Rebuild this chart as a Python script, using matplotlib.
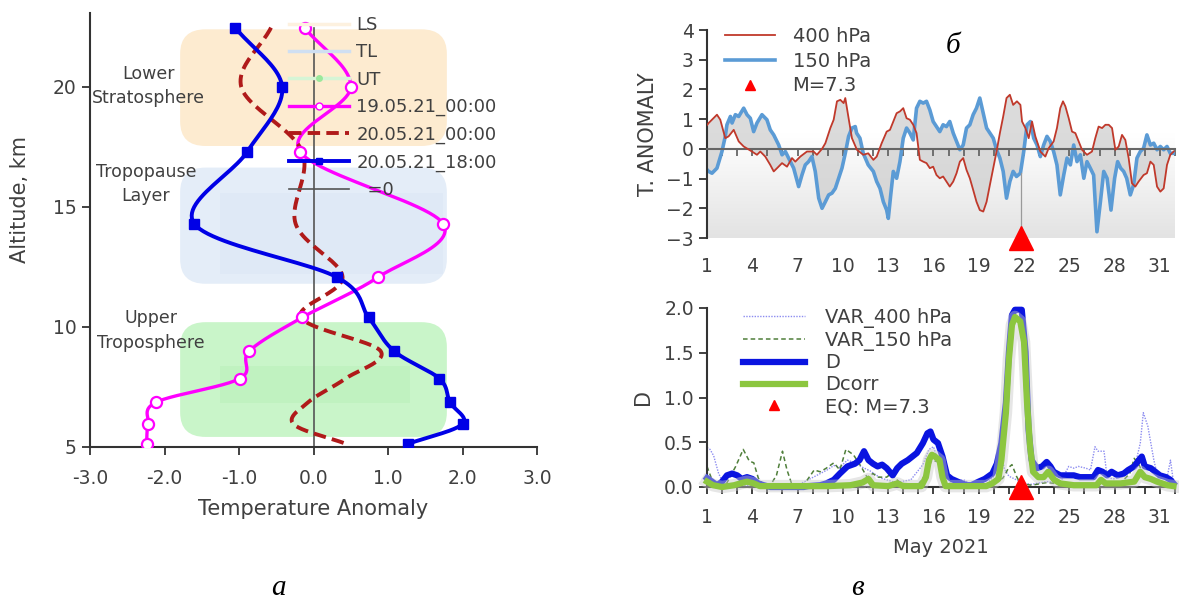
import numpy as np
import matplotlib
matplotlib.use("Agg")
import matplotlib.pyplot as plt
from matplotlib.patches import FancyBboxPatch
from matplotlib.lines import Line2D
from matplotlib.ticker import FuncFormatter
from matplotlib.colors import LinearSegmentedColormap

plt.rcParams["font.family"] = ["DejaVu Sans"]
TEXT = "#404040"
AXIS = "#333333"

# ---- (a) temperature anomaly profiles
ALT = [22.47, 20.0, 17.3, 14.3, 12.08, 10.4, 9.0, 7.85, 6.87, 5.96, 5.13]
T_19_00 = [-0.12, 0.50, -0.18, 1.74, 0.87, -0.15, -0.86, -0.99, -2.11, -2.22, -2.24]
T_20_00 = [-0.57, -0.97, -0.15, -0.24, 0.39, -0.17, 0.90, 0.43, -0.07, -0.27, 0.44]
T_20_18 = [-1.05, -0.42, -0.89, -1.60, 0.31, 0.74, 1.08, 1.69, 1.83, 2.00, 1.27]
ZERO_ALT = [5.0, 22.47]

# layers: (label, x0, x1, alt0, alt1, colour)
LAYERS = [("LS", -1.79, 1.79, 17.54, 22.40, "#fdebd0"),
          ("TL", -1.79, 1.79, 11.80, 16.64, "#e4edf8"),
          ("UT", -1.79, 1.79, 5.42, 10.20, "#c9f5c9")]

# ---- (б) temperature anomaly time series, May 2021
RED_DAY = [1.0, 1.11, 1.66, 1.88, 2.21, 2.43, 2.77, 3.10, 3.43, 3.98, 4.31, 4.53, 4.86,
           5.19, 5.42, 5.64, 5.97, 6.30, 6.63, 6.85, 7.18, 7.62, 8.06, 8.28, 8.62, 8.84,
           9.17, 9.39, 9.61, 9.83, 10.05, 10.16, 10.38, 10.60, 10.93, 11.35, 11.68,
           12.02, 12.24, 12.57, 12.90, 13.12, 13.34, 13.56, 13.78, 14.00, 14.22, 14.44,
           14.66, 14.88, 15.10, 15.32, 15.54, 15.76, 15.98, 16.20, 16.42, 16.64, 16.86,
           17.08, 17.31, 17.53, 17.75, 17.97, 18.19, 18.41, 18.63, 18.85, 19.07, 19.30,
           19.52, 19.74, 19.96, 20.18, 20.40, 20.62, 20.84, 21.06, 21.28, 21.53, 21.76,
           21.87, 22.09, 22.31, 22.53, 22.75, 23.08, 23.41, 23.63, 23.96, 24.18, 24.40,
           24.58, 24.74, 24.96, 25.18, 25.40, 25.62, 25.84, 26.17, 26.50, 26.72, 26.94,
           27.17, 27.39, 27.61, 27.83, 28.05, 28.27, 28.49, 28.71, 28.93, 29.15, 29.37,
           29.59, 29.92, 30.14, 30.37, 30.59, 30.81, 31.03, 31.25, 31.47, 31.69, 31.91]
RED_VAL = [0.80, 0.87, 1.15, 0.98, 0.36, 0.42, 0.64, 0.25, 0.08, -0.09, -0.20, -0.09, -0.26,
           -0.54, -0.76, -0.65, -0.48, -0.60, -0.31, -0.43, -0.26, -0.09, -0.09, -0.20, 0.00,
           0.19, 0.70, 0.98, 1.60, 1.65, 1.54, 1.71, 1.03, 0.36, -0.03, -0.20, -0.15,
           -0.37, -0.26, 0.19, 0.58, 0.64, 0.92, 1.20, 1.26, 1.37, 1.03, 0.98,
           0.81, 0.53, -0.37, -0.43, -0.48, -0.65, -0.60, -0.88, -0.99, -0.93, -1.10,
           -1.27, -1.10, -0.82, -0.43, -0.31, -0.71, -0.99, -1.38, -1.78, -2.06, -2.11,
           -1.78, -1.21, -0.65, -0.09, 0.53, 1.09, 1.71, 1.82, 1.48, 1.60, 1.48,
           0.92, 0.70, 0.36, 0.92, 0.42, -0.09, -0.26, 0.02, 0.25, 0.70, 1.37,
           1.60, 1.43, 1.03, 0.58, 0.53, 0.25, -0.03, -0.20, -0.09, 0.36, 0.75,
           0.70, 0.81, 0.81, 0.70, -0.03, 0.08, 0.47, 0.30, -0.31, -1.16, -1.27,
           -1.10, -0.88, -0.82, -0.43, -0.54, -1.27, -1.44, -1.33, -0.54, -0.20, -0.09]

BLUE_DAY = [1.0, 1.11, 1.33, 1.66, 1.99, 2.21, 2.32, 2.55, 2.66, 2.88, 3.10, 3.43, 3.65,
            3.87, 4.09, 4.31, 4.64, 4.97, 5.19, 5.42, 5.75, 5.97, 6.19, 6.52, 6.74, 7.07,
            7.29, 7.51, 7.73, 7.95, 8.17, 8.40, 8.62, 8.84, 9.06, 9.28, 9.50, 9.72, 9.94,
            10.16, 10.38, 10.60, 10.82, 10.91, 11.13, 11.35, 11.68, 12.02, 12.24, 12.46,
            12.68, 12.90, 13.01, 13.17, 13.34, 13.56, 13.78, 14.00, 14.22, 14.44, 14.66,
            14.88, 15.10, 15.32, 15.54, 15.76, 15.98, 16.20, 16.42, 16.64, 16.86, 17.08,
            17.31, 17.53, 17.75, 17.97, 18.19, 18.41, 18.63, 18.85, 19.07, 19.30, 19.52,
            19.74, 19.96, 20.18, 20.40, 20.62, 20.84, 21.06, 21.28, 21.50, 21.76, 21.98,
            22.20, 22.42, 22.64, 22.86, 23.08, 23.30, 23.52, 23.74, 23.96, 24.18, 24.40,
            24.63, 24.85, 25.07, 25.29, 25.51, 25.73, 25.96, 26.17, 26.39, 26.61, 26.83,
            27.06, 27.28, 27.50, 27.76, 28.00, 28.20, 28.40, 28.60, 28.80, 29.04, 29.26,
            29.48, 29.70, 29.92, 30.14, 30.37, 30.59, 30.81, 31.03, 31.25, 31.47, 31.69,
            31.91]
BLUE_VAL = [-0.70, -0.76, -0.82, -0.65, -0.09, 0.42, 0.81, 1.09, 0.87, 1.15, 1.09, 1.37, 1.15,
            1.03, 0.58, 0.87, 1.15, 0.98, 0.64, 0.47, 0.13, -0.20, -0.09, -0.43, -0.65, -1.27,
            -0.88, -0.54, -0.43, -0.26, -0.76, -1.66, -2.00, -1.78, -1.55, -1.49, -1.33, -0.99,
            -0.65, -0.15, 0.42, 0.70, 0.75, 0.53, 0.36, -0.15, -0.54, -0.76, -1.10, -1.33,
            -1.78, -2.06, -2.34, -1.55, -0.76, -0.99, -0.43, 0.36, 0.70, 0.53, 0.30,
            1.37, 1.60, 1.54, 1.60, 1.31, 0.92, 0.75, 0.58, 0.81, 0.75, 0.92,
            0.53, 0.25, -0.03, 0.13, 0.70, 0.81, 1.15, 1.37, 1.71, 1.20, 0.70,
            0.53, 0.36, -0.03, -0.31, -0.76, -1.66, -1.10, -0.76, -0.93, -0.82, -0.09,
            0.81, 0.92, 0.36, 0.13, -0.26, 0.13, 0.42, 0.25, -0.09, -0.54, -1.55,
            -0.88, -0.31, -0.54, 0.13, -0.43, -0.20, -0.99, -0.43, -0.65, -0.88, -2.79,
            -1.78, -0.76, -0.99, -2.06, -0.99, -0.43, -0.65, -0.76, -0.99, -1.55, -1.21,
            -0.31, -0.09, 0.02, 0.47, 0.13, 0.19, -0.03, 0.08, -0.03, 0.08, -0.15,
            -0.15]

EQ_DAY = 21.8
EQ_DROP_TOP = -0.8

# ---- (в) D index and variances
D_DAY = [1.0, 1.33, 1.66, 2.0, 2.32, 2.66, 3.0, 3.3, 3.65, 4.0, 4.4, 4.75, 5.2, 7.4, 7.7,
         8.5, 8.9, 9.4, 9.8, 10.3, 10.8, 11.1, 11.4, 11.7, 12.0, 12.3, 12.6, 12.9, 13.3,
         13.6, 13.9, 14.3, 14.6, 14.9, 15.3, 15.6, 15.8, 16.0, 16.3, 16.6, 16.9, 17.2,
         17.6, 17.9, 18.2, 18.5, 19.0, 19.4, 19.9, 20.2, 20.5, 20.8, 21.0, 21.2, 21.4,
         21.85, 22.1, 22.3, 22.5, 22.86, 23.2, 23.5, 23.75, 23.96, 24.4, 24.85, 25.3,
         25.7, 26.2, 26.6, 26.9, 27.2, 27.5, 27.8, 28.2, 28.6, 28.9, 29.3, 29.6, 29.8,
         30.0, 30.4, 30.7, 31.0, 31.4, 31.7, 31.9]
D_VAL = [0.10, 0.06, 0.02, 0.06, 0.13, 0.15, 0.13, 0.09, 0.11, 0.09, 0.04, 0.02, 0.0, 0.0, 0.01,
         0.02, 0.04, 0.08, 0.15, 0.23, 0.26, 0.30, 0.40, 0.30, 0.26, 0.23, 0.25, 0.21, 0.13,
         0.21, 0.26, 0.30, 0.34, 0.38, 0.49, 0.60, 0.62, 0.53, 0.49, 0.34, 0.13, 0.09,
         0.06, 0.04, 0.02, 0.02, 0.06, 0.09, 0.15, 0.26, 0.49, 0.94, 1.51, 1.92, 1.98,
         1.98, 1.51, 0.64, 0.30, 0.21, 0.23, 0.28, 0.23, 0.17, 0.13, 0.13, 0.13,
         0.11, 0.11, 0.11, 0.19, 0.17, 0.13, 0.17, 0.13, 0.15, 0.19, 0.23, 0.30, 0.34,
         0.23, 0.21, 0.17, 0.13, 0.11, 0.08, 0.04]

DCORR_DAY = [1.0, 1.4, 2.0, 2.8, 3.2, 3.65, 4.1, 4.5, 9.0, 10.5, 11.3, 11.7, 12.0, 13.0,
             13.6, 14.0, 15.2, 15.5, 15.7, 15.9, 16.1, 16.4, 16.6, 16.8, 19.5, 19.9, 20.3,
             20.5, 20.8, 21.0, 21.2, 21.4, 21.75, 22.0, 22.2, 22.4, 22.6, 22.95, 23.3,
             23.6, 24.0, 24.4, 25.3, 26.8, 27.1, 27.4, 28.4, 29.3, 29.7, 30.0, 30.4, 30.8,
             31.5, 31.9]
DCORR_VAL = [0.06, 0.02, 0.0, 0.02, 0.04, 0.06, 0.04, 0.01, 0.01, 0.02, 0.05, 0.09, 0.02, 0.01,
             0.04, 0.01, 0.01, 0.11, 0.30, 0.36, 0.34, 0.30, 0.11, 0.01, 0.01, 0.04, 0.09,
             0.30, 0.83, 1.43, 1.81, 1.90, 1.85, 1.62, 0.94, 0.45, 0.17, 0.11, 0.11,
             0.17, 0.08, 0.04, 0.02, 0.02, 0.08, 0.04, 0.04, 0.06, 0.17, 0.11, 0.09, 0.06,
             0.02, 0.01]

VAR400_DAY = [1.0, 1.2, 1.44, 1.77, 2.1, 3.0, 5.0, 7.0, 7.7, 8.5, 8.95, 9.4, 9.8, 10.3, 10.8,
              11.3, 11.8, 12.5, 13.5, 14.5, 15.3, 15.7, 16.0, 16.3, 16.7, 17.3, 18.0, 18.5,
              19.5, 20.0, 20.4, 20.7, 21.0, 21.5, 22.0, 22.5, 23.5, 24.4, 24.96, 25.3, 25.6,
              26.1, 26.4, 26.7, 26.9, 27.3, 27.5, 27.9, 28.6, 29.3, 29.7, 29.9, 30.2, 30.6,
              30.9, 31.4, 31.7, 31.9]
VAR400_VAL = [0.44, 0.42, 0.35, 0.15, 0.04, 0.02, 0.01, 0.02, 0.08, 0.15, 0.19, 0.24, 0.22, 0.30,
              0.27, 0.22, 0.18, 0.10, 0.05, 0.08, 0.25, 0.42, 0.45, 0.30, 0.10, 0.06, 0.08, 0.03,
              0.03, 0.12, 0.45, 0.20, 0.12, 0.08, 0.04, 0.03, 0.06, 0.05, 0.23, 0.21, 0.23,
              0.21, 0.19, 0.45, 0.40, 0.40, 0.11, 0.09, 0.12, 0.20, 0.49, 0.83, 0.68, 0.30,
              0.08, 0.04, 0.30, 0.05]

VAR150_DAY = [1.0, 1.33, 1.8, 2.3, 2.9, 3.4, 3.8, 4.1, 4.4, 4.75, 5.2, 5.6, 6.0, 6.3, 6.6,
              7.4, 8.1, 8.5, 8.9, 9.4, 9.8, 10.2, 10.7, 11.2, 11.6, 12.0, 12.3, 12.9, 13.2,
              13.5, 13.9, 15.0, 15.5, 15.9, 16.3, 16.7, 18.0, 20.0, 20.6, 21.0, 21.2, 21.5,
              21.75, 22.5, 23.5, 25.0, 27.0, 28.5, 29.0, 29.3, 29.6, 30.0, 30.5, 31.9]
VAR150_VAL = [0.23, 0.08, 0.02, 0.04, 0.23, 0.42, 0.29, 0.27, 0.10, 0.02, 0.02, 0.13, 0.40, 0.19,
              0.04, 0.02, 0.19, 0.17, 0.21, 0.27, 0.19, 0.42, 0.36, 0.23, 0.11, 0.15, 0.11, 0.11,
              0.15, 0.09, 0.04, 0.03, 0.15, 0.30, 0.28, 0.05, 0.02, 0.03, 0.10, 0.22, 0.25,
              0.12, 0.04, 0.02, 0.05, 0.02, 0.04, 0.06, 0.15, 0.32, 0.25, 0.12, 0.06, 0.02]

DAY_TICKS = list(range(1, 32, 3))


def smooth(x, y, n=24):
    """Excel-style smoothed line: Catmull-Rom curve through the given points."""
    p = np.column_stack([x, y]).astype(float)
    p = np.vstack([2 * p[0] - p[1], p, 2 * p[-1] - p[-2]])
    t = np.linspace(0, 1, n, endpoint=False)[:, None]
    segs = []
    for i in range(1, len(p) - 2):
        p0, p1, p2, p3 = p[i - 1], p[i], p[i + 1], p[i + 2]
        segs.append(0.5 * (2 * p1 + (p2 - p0) * t
                           + (2 * p0 - 5 * p1 + 4 * p2 - p3) * t ** 2
                           + (3 * p1 - p0 - 3 * p2 + p3) * t ** 3))
    segs.append(p[-2][None, :])
    out = np.vstack(segs)
    return out[:, 0], out[:, 1]


def style_ticks(ax, size):
    ax.tick_params(colors=AXIS, labelcolor=TEXT, labelsize=size, width=1.3, length=6)
    for side in ("left", "bottom"):
        ax.spines[side].set_color(AXIS)
        ax.spines[side].set_linewidth(1.5)
    ax.spines["top"].set_visible(False)
    ax.spines["right"].set_visible(False)


fig = plt.figure(figsize=(11.79, 5.99), dpi=100)
W, H = 1179, 599

# ================= (a) =================
axA = fig.add_axes([90 / W, 1 - 447 / H, (537 - 90) / W, (447 - 13) / H])
for name, x0, x1, a0, a1, col in LAYERS:
    axA.add_patch(FancyBboxPatch((x0, a0), x1 - x0, a1 - a0,
                                 boxstyle="round,pad=0,rounding_size=0.34",
                                 mutation_aspect=3.0, fc=col, ec="none", zorder=0))
# slightly deeper cores of the TL and UT boxes
axA.add_patch(plt.Rectangle((-1.26, 12.2), 3.0, 3.4, fc="#dfe9f6", ec="none", zorder=0))
axA.add_patch(plt.Rectangle((-1.26, 6.83), 2.55, 1.55, fc="#c0f2c0", ec="none", zorder=0))

axA.plot([0, 0], ZERO_ALT, color="#555555", lw=1.2, zorder=2)
xs, ys = smooth(T_19_00, ALT)
axA.plot(xs, ys, color="#ff00ff", lw=2.4, zorder=3)
axA.plot(T_19_00, ALT, ls="none", marker="o", ms=8, mfc="white", mec="#ff00ff",
         mew=1.6, zorder=4)
xs, ys = smooth(T_20_00, ALT)
axA.plot(xs, ys, color="#b01a1a", lw=2.8, ls=(0, (3.2, 1.6)), zorder=3)
xs, ys = smooth(T_20_18, ALT)
axA.plot(xs, ys, color="#0000e6", lw=2.8, zorder=3)
axA.plot(T_20_18, ALT, ls="none", marker="s", ms=7.5, color="#0000e6", zorder=4)

axA.text(-2.22, 20.05, "Lower\nStratosphere", ha="center", va="center", color=TEXT,
         fontsize=12.5, linespacing=1.45)
axA.text(-2.25, 15.95, "Tropopause\nLayer", ha="center", va="center", color=TEXT,
         fontsize=12.5, linespacing=1.45)
axA.text(-2.18, 9.85, "Upper\nTroposphere", ha="center", va="center", color=TEXT,
         fontsize=12.5, linespacing=1.45)

axA.set_xlim(-3, 3)
axA.set_ylim(5, 23.08)
axA.set_xticks(np.arange(-3, 3.1, 1))
axA.xaxis.set_major_formatter(FuncFormatter(lambda v, _: f"{v:.1f}"))
axA.set_yticks([5, 10, 15, 20])
style_ticks(axA, 13.5)
axA.tick_params(axis="x", pad=10)
axA.set_xlabel("Temperature Anomaly", fontsize=15, color=TEXT, labelpad=8)
axA.set_ylabel("Altitude, km", fontsize=15, color=TEXT)
axA.yaxis.set_label_coords(-0.135, 0.57)

handles = [Line2D([], [], color="#fdf1df", lw=2.5),
           Line2D([], [], color="#cfdff2", lw=2.5),
           Line2D([], [], color="#d6f5d6", lw=2.5, marker="o", ms=5, mfc="#9be89b",
                  mec="none"),
           Line2D([], [], color="#ff00ff", lw=2.4, marker="o", ms=5, mfc="white",
                  mec="#ff00ff", markevery=[1]),
           Line2D([], [], color="#b01a1a", lw=2.8, ls=(0, (3.2, 1.6))),
           Line2D([], [], color="#0000e6", lw=2.8, marker="s", ms=4),
           Line2D([], [], color="#555555", lw=1.2)]
labels = ["LS", "TL", "UT", "19.05.21_00:00", "20.05.21_00:00", "20.05.21_18:00", "  =0"]
axA.legend(handles, labels, loc="upper left", bbox_to_anchor=(0.43, 1.01),
           frameon=False, fontsize=13, handlelength=3.3, handletextpad=0.4,
           labelspacing=0.52, borderaxespad=0, labelcolor=TEXT)

# ================= (б) =================
axB = fig.add_axes([707 / W, 1 - 238 / H, (1175 - 707) / W, 208 / H])
grad = LinearSegmentedColormap.from_list("bg", ["#ffffff", "#ffffff", "#e3e3e3"])
axB.imshow(np.linspace(0, 1, 256)[:, None], cmap=grad, extent=[0, 1, 0, 1],
           transform=axB.transAxes, aspect="auto", zorder=0)
axB.fill(np.concatenate([RED_DAY, BLUE_DAY[::-1]]),
         np.concatenate([RED_VAL, BLUE_VAL[::-1]]),
         color="#cfcfcf", alpha=0.75, lw=0, zorder=1)
axB.plot(RED_DAY, RED_VAL, color="#c0392b", lw=1.3, zorder=3, label="400 hPa")
axB.plot(BLUE_DAY, BLUE_VAL, color="#5b9bd5", lw=2.6, zorder=2, label="150 hPa")
axB.plot([EQ_DAY, EQ_DAY], [-3, EQ_DROP_TOP], color="#9a9a9a", lw=0.9, zorder=2)
axB.plot([EQ_DAY], [-3], ls="none", marker="^", ms=17, color="red", clip_on=False,
         zorder=5)
axB.plot([], [], ls="none", marker="^", ms=7, color="red", label="M=7.3")

axB.set_xlim(1, 32)
axB.set_ylim(-3, 4)
axB.set_yticks(range(-3, 5))
style_ticks(axB, 13.5)
axB.spines["bottom"].set_position(("data", 0))
axB.spines["bottom"].set_color("#666666")
axB.set_xticks(range(1, 33))
axB.tick_params(axis="x", labelbottom=False, length=5, color="#666666", width=1.3)
secB = axB.secondary_xaxis("bottom")
secB.set_xticks(DAY_TICKS)
secB.tick_params(length=0, labelsize=13.5, labelcolor=TEXT, pad=14)
secB.spines["bottom"].set_visible(False)
axB.set_ylabel("T. ANOMALY", fontsize=15, color=TEXT, labelpad=6)
axB.legend(loc="upper left", bbox_to_anchor=(0.0, 1.1), frameon=False, fontsize=14,
           handlelength=2.6, handletextpad=0.9, labelspacing=0.3, labelcolor=TEXT)

# ================= (в) =================
axC = fig.add_axes([707 / W, 1 - 487 / H, (1175 - 707) / W, 179 / H])
axC.plot(VAR400_DAY, VAR400_VAL, color="#8c8cf0", lw=1.0, ls=(0, (1, 1)), zorder=2,
         label="VAR_400 hPa")
axC.plot(VAR150_DAY, VAR150_VAL, color="#4f7f3a", lw=1.1, ls=(0, (3, 2)), zorder=2,
         label="VAR_150 hPa")
axC.plot(D_DAY, D_VAL, color="#0a14e0", lw=4.5, zorder=3, label="D", clip_on=False)
axC.plot(DCORR_DAY, DCORR_VAL, color="#c8c8c8", lw=9, alpha=0.45, zorder=3.5,
         clip_on=False)
axC.plot(DCORR_DAY, DCORR_VAL, color="#8cc63f", lw=4.5, zorder=4, label="Dcorr",
         clip_on=False)
axC.plot([EQ_DAY], [0], ls="none", marker="^", ms=17, color="red", clip_on=False,
         zorder=6)
axC.plot([], [], ls="none", marker="^", ms=7, color="red", label="EQ: M=7.3")

axC.set_xlim(1, 32)
axC.set_ylim(0, 2.0)
axC.set_yticks([0, 0.5, 1.0, 1.5, 2.0])
axC.yaxis.set_major_formatter(FuncFormatter(lambda v, _: f"{v:.1f}"))
axC.set_xticks(range(1, 33))
axC.xaxis.set_major_formatter(FuncFormatter(lambda v, _: str(int(v)) if (v - 1) % 3 == 0 else ""))
style_ticks(axC, 13.5)
axC.tick_params(axis="x", length=5, pad=10)
axC.set_xlabel("May 2021", fontsize=14, color=TEXT, labelpad=8)
axC.set_ylabel("D", fontsize=15, color=TEXT, labelpad=8)
axC.legend(loc="upper left", bbox_to_anchor=(0.04, 1.1), frameon=False, fontsize=14,
           handlelength=3.2, handletextpad=1.0, labelspacing=0.15, labelcolor=TEXT)

# panel captions
cap = dict(family="Liberation Serif", style="italic", fontsize=21, ha="center",
           va="center", color="black")
fig.text(278 / W, 1 - 588 / H, "а", **cap)
fig.text(953 / W, 1 - 46 / H, "б", **cap)
fig.text(857 / W, 1 - 588 / H, "в", **cap)

fig.savefig("out.png", dpi=100)
